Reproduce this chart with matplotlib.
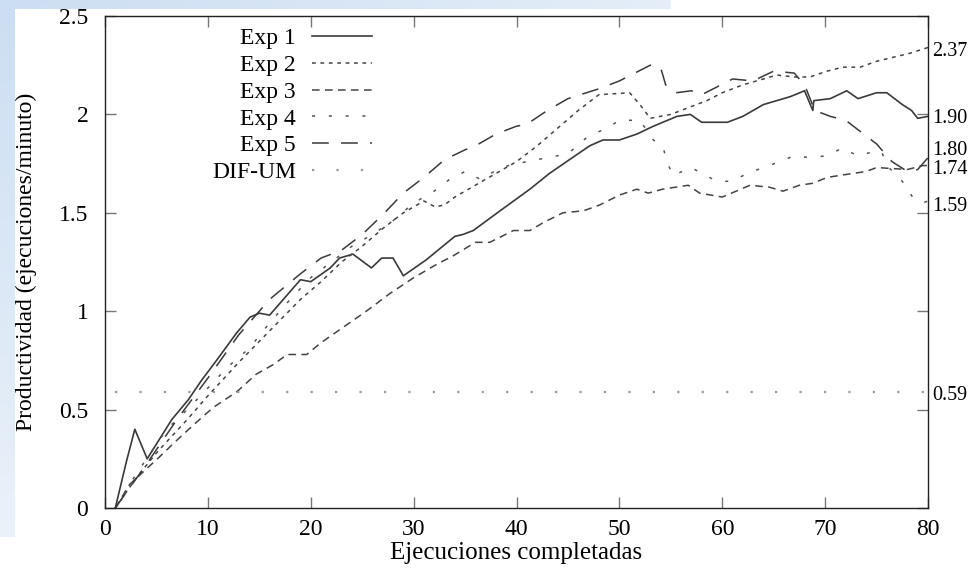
import numpy as np
import matplotlib
matplotlib.use("Agg")
import matplotlib.pyplot as plt

plt.rcParams['font.family'] = ['Liberation Serif', 'DejaVu Serif']

# --- data ---
exp1_x = [1, 2.1, 2.9, 4.1, 6.5, 8.1, 9.4, 10.7, 12.8, 14.1, 15, 16, 17, 19, 20, 21.9, 22.8, 24.1,
          25.9, 26.9, 28, 29, 31.2, 34, 34.8, 35.8, 38.4, 41.3, 43.2, 47.1, 48.4, 50, 51.7, 53.3,
          55.6, 56.9, 58, 59.5, 60.5, 62, 64, 65.3, 66.6, 68, 68.8, 68.9, 70.5, 72.1, 73.2, 75, 76,
          77.5, 78.4, 79, 80]
exp1_y = [0, 0.24, 0.40, 0.25, 0.45, 0.55, 0.65, 0.74, 0.89, 0.97, 0.99, 0.98, 1.04, 1.16, 1.15,
          1.22, 1.27, 1.29, 1.22, 1.27, 1.27, 1.18, 1.26, 1.38, 1.39, 1.41, 1.51, 1.62, 1.70, 1.84,
          1.87, 1.87, 1.90, 1.94, 1.99, 2.00, 1.96, 1.96, 1.96, 1.99, 2.05, 2.07, 2.09, 2.12, 2.02,
          2.07, 2.08, 2.12, 2.08, 2.11, 2.11, 2.05, 2.02, 1.98, 1.99]

exp2_x = [1, 3, 5, 8, 10, 13, 16, 19, 21, 23, 25, 27, 29, 31, 32.1, 33, 34, 36, 38, 40, 42, 44,
          46, 48, 51, 52, 53, 55, 56.5, 58.5, 60, 62, 64, 65.3, 67, 68.5, 70.2, 71.7, 73.4, 75,
          76.6, 78.2, 80]
exp2_y = [0, 0.15, 0.28, 0.45, 0.57, 0.74, 0.90, 1.06, 1.15, 1.25, 1.33, 1.42, 1.50, 1.56, 1.53,
          1.54, 1.58, 1.64, 1.70, 1.76, 1.84, 1.93, 2.02, 2.10, 2.11, 2.05, 1.98, 2.00, 2.03, 2.07,
          2.11, 2.15, 2.18, 2.20, 2.19, 2.19, 2.22, 2.24, 2.24, 2.27, 2.29, 2.31, 2.34]

exp3_x = [1, 2.4, 5.3, 7.3, 9.2, 10.5, 12.8, 14.7, 16.4, 17.7, 19.6, 21, 23.2, 25.4, 27.7, 30,
          32.3, 33.8, 36, 37.4, 39.7, 41.3, 42.6, 44.5, 46.5, 48.1, 50, 51.7, 52.8, 54.2, 56.7,
          57.8, 60, 62.7, 64.6, 65.9, 67.5, 68.8, 70.2, 72.7, 74, 75, 78, 79.5, 80]
exp3_y = [0, 0.12, 0.26, 0.36, 0.45, 0.51, 0.59, 0.68, 0.73, 0.78, 0.78, 0.84, 0.92, 1.00, 1.09,
          1.17, 1.24, 1.28, 1.35, 1.35, 1.41, 1.41, 1.45, 1.50, 1.51, 1.54, 1.59, 1.62, 1.60, 1.62,
          1.64, 1.60, 1.58, 1.64, 1.63, 1.61, 1.64, 1.65, 1.68, 1.70, 1.71, 1.73, 1.72, 1.74, 1.74]

exp4_x = [1, 3, 6, 8, 10, 12, 14, 16, 18, 20, 22, 24, 26, 28, 30, 32, 33.5, 35, 36.5, 38.5, 40,
          43, 45, 47, 48.8, 50, 52, 53.3, 54.2, 54.7, 55.2, 57, 58, 59.5, 61, 62.4, 64, 65.6, 67,
          68.5, 70.2, 71.7, 73.1, 74.7, 75.5, 76, 77.5, 78.5, 79.5, 80]
exp4_y = [0, 0.17, 0.40, 0.50, 0.61, 0.72, 0.81, 0.94, 1.06, 1.17, 1.25, 1.33, 1.39, 1.46, 1.55,
          1.61, 1.67, 1.71, 1.67, 1.73, 1.75, 1.78, 1.80, 1.89, 1.93, 1.97, 1.97, 1.87, 1.84, 1.75,
          1.69, 1.73, 1.70, 1.66, 1.66, 1.70, 1.73, 1.76, 1.79, 1.78, 1.79, 1.83, 1.79, 1.81, 1.81,
          1.74, 1.66, 1.58, 1.55, 1.56]

exp5_x = [1, 4, 7, 10, 13, 16, 19, 21, 23, 25, 27, 29, 31, 33, 35, 36, 38, 40, 41, 43, 45, 48, 50,
          53, 54, 54.5, 55.5, 57, 58, 59.5, 61, 63, 65, 67, 68, 69, 70.5, 72, 73, 75, 76.5, 78,
          79, 80]
exp5_y = [0, 0.22, 0.45, 0.66, 0.88, 1.06, 1.19, 1.27, 1.31, 1.39, 1.49, 1.60, 1.68, 1.77, 1.82,
          1.84, 1.90, 1.94, 1.95, 2.02, 2.08, 2.13, 2.17, 2.25, 2.24, 2.15, 2.11, 2.12, 2.10, 2.14,
          2.18, 2.17, 2.22, 2.21, 2.15, 2.02, 1.99, 1.97, 1.93, 1.85, 1.76, 1.71, 1.72, 1.78]

difum_x = [1, 80]
difum_y = [0.59, 0.59]

labels = ["Exp 1", "Exp 2", "Exp 3", "Exp 4", "Exp 5", "DIF-UM"]
end_labels = ["1.90", "2.37", "1.74", "1.59", "1.80", "0.59"]

series = [(exp1_x, exp1_y), (exp2_x, exp2_y), (exp3_x, exp3_y),
          (exp4_x, exp4_y), (exp5_x, exp5_y), (difum_x, difum_y)]
styles = [
    dict(color="#3a3a3a", lw=1.2, ls="-"),
    dict(color="#444444", lw=1.1, ls=(0, (2.5, 3.0))),
    dict(color="#444444", lw=1.1, ls=(0, (5.0, 3.5))),
    dict(color="#555555", lw=1.1, ls=(0, (2.0, 9.0))),
    dict(color="#3a3a3a", lw=1.1, ls=(0, (11.0, 8.0))),
    dict(color="#9a9a9a", lw=1.6, ls=(0, (1.0, 10.0))),
]
label_nudge = [-0.012, -0.022, -0.022, -0.027, 0.038, -0.017]

fig = plt.figure(figsize=(9.71, 5.74), dpi=100)

# slide background strips (light blue) behind the chart
bg = fig.add_axes([0, 0, 1, 1], zorder=-10)
h, w = 574, 971
img = np.ones((h, w, 3))
yy, xx = np.mgrid[0:h, 0:w]
blue = np.array([0.80, 0.87, 0.95])
mask = ((xx < 15) & (yy < 537)) | ((yy < 9) & (xx < 670))
fade = np.clip(1 - yy / 900.0, 0.4, 1)[..., None] * np.clip(1 - xx / 1400.0, 0.5, 1)[..., None]
img = np.where(mask[..., None], 1 - (1 - blue) * fade, img)
bg.imshow(img, aspect="auto", extent=[0, 1, 0, 1])
bg.axis("off")

ax = fig.add_axes([105 / 971, 1 - 508 / 574, 823 / 971, 492 / 574])
ax.set_facecolor("none")

for (x, y), lab, st in zip(series, labels, styles):
    ax.plot(x, y, label=lab, **st)

ax.set_xlim(0, 80)
ax.set_ylim(0, 2.5)
ax.set_xticks(range(0, 81, 10))
ax.set_yticks([0, 0.5, 1, 1.5, 2, 2.5])
ax.set_yticklabels(["0", "0.5", "1", "1.5", "2", "2.5"])
ax.tick_params(direction="in", length=8, width=1, color="#777777", labelsize=17,
               top=True, right=True, pad=8)
ax.tick_params(axis="y", pad=12)
for sp in ax.spines.values():
    sp.set_color("#222222")
    sp.set_linewidth(1.0)

for (x, y), txt, dy in zip(series, end_labels, label_nudge):
    ax.annotate(txt, xy=(80, y[-1] + dy), xytext=(3, 0), textcoords="offset points",
                va="center", ha="left", fontsize=14.5, annotation_clip=False)

ax.set_xlabel("Ejecuciones completadas", fontsize=18, labelpad=1)
ax.set_ylabel("Productividad (ejecuciones/minuto)", fontsize=17, labelpad=16)

ax.legend(loc="upper right", bbox_to_anchor=(0.339, 1.0), frameon=False, markerfirst=False,
          fontsize=17, handlelength=2.55, handletextpad=0.68, labelspacing=0.22, borderpad=0)

fig.savefig("out.png", dpi=100)
